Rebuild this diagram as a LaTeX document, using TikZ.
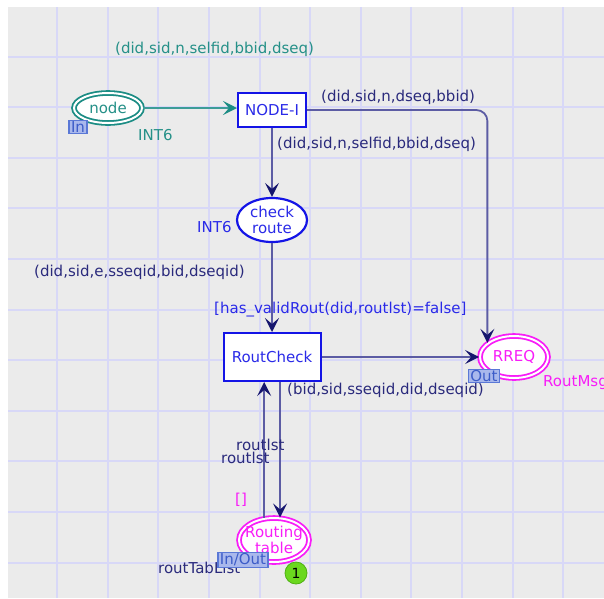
\documentclass[tikz,border=0pt]{standalone}
\usepackage{fontspec}
\setmainfont{DejaVu Sans}
\usetikzlibrary{shapes.geometric,arrows.meta,calc}

\definecolor{bggray}{HTML}{EBEBEB}
\definecolor{gridc}{HTML}{D8D8F7}
\definecolor{tealc}{HTML}{1B8C84}
\definecolor{tealline}{HTML}{3C9C98}
\definecolor{tealtxt}{HTML}{259088}
\definecolor{bluec}{HTML}{1414E6}
\definecolor{bluetxt}{HTML}{2A2AE8}
\definecolor{arcc}{HTML}{5C5CA4}
\definecolor{headc}{HTML}{16166E}
\definecolor{navytxt}{HTML}{2A2A7C}
\definecolor{magc}{HTML}{F81CF8}
\definecolor{tagfill}{HTML}{A9B8EC}
\definecolor{tagdraw}{HTML}{5A78D6}
\definecolor{tagtxt}{HTML}{3C5CC8}
\definecolor{tokfill}{HTML}{6BD81E}
\definecolor{tokdraw}{HTML}{4FB012}

\begin{document}
\begin{tikzpicture}[x=1pt,y=-1pt,
  every node/.style={font=\fontsize{15}{16}\selectfont},
  trans/.style={rectangle, draw=bluec, line width=2pt, fill=white,
    text=bluetxt, inner sep=0pt},
  dplace/.style={ellipse, draw=#1, double=white, double distance=2pt,
    line width=1.8pt, fill=white, inner sep=0pt},
  splace/.style={ellipse, draw=#1, line width=2.2pt, fill=white, inner sep=0pt},
  arc/.style={draw=arcc, line width=1.8pt,
    -{Stealth[length=14pt,width=14pt,inset=6pt,color=headc]}},
  tarc/.style={draw=tealline, line width=1.8pt,
    -{Stealth[length=14pt,width=14pt,inset=6pt,color=tealc]}},
  tag/.style={rectangle, fill=tagfill, draw=tagdraw, line width=1.2pt,
    text=tagtxt, inner xsep=2pt, inner ysep=1pt,
    font=\fontsize{15}{15}\selectfont},
  lbl/.style={inner sep=0pt, anchor=west},
]
% canvas and sheet
\fill[white] (0,0) rectangle (604,598);
\useasboundingbox (0,0) rectangle (604,598);
\fill[bggray] (8,7) rectangle (604,598);
\foreach \i in {0,...,10} {
  \draw[gridc, line width=2pt] ({57.1+50.6*\i},7) -- ({57.1+50.6*\i},598);
  \draw[gridc, line width=2pt] (8,{56.5+50.6*\i}) -- (604,{56.5+50.6*\i});
}

% places and transitions
\node[dplace=tealc, minimum width=68pt, minimum height=30pt, text=tealtxt]
  (node) at (108,108) {node};
\node[trans, minimum width=68pt, minimum height=34pt] (nodeI) at (272,110) {NODE-I};
\node[splace=bluec, minimum width=70pt, minimum height=44pt,
  label={[text=bluetxt, align=center, inner sep=0pt,
    font=\fontsize{15}{16}\selectfont]center:check\\route}]
  (check) at (272,220) {};
\node[trans, minimum width=97pt, minimum height=48pt] (rc) at (272,357) {RoutCheck};
\node[dplace=magc, minimum width=68pt, minimum height=42pt, text=magc]
  (rreq) at (514,357) {RREQ};
\node[dplace=magc, minimum width=70pt, minimum height=44pt] (rt) at (274,540) {};

% arcs
\draw[tarc] (node.east) -- (node.east -| nodeI.west);
\draw[arc, rounded corners=11pt] (nodeI.east) -| (rreq.152);
\draw[arc] (nodeI) -- (check);
\draw[arc] (check) -- (rc);
\draw[arc] (rc) -- (rreq);
\draw[arc] (rt.114) -- (rt.114 |- rc.south);
\draw[arc] (rc.south -| rt.75) -- (rt.75);

% text inside the routing table place (drawn over its border)
\node[text=magc, align=center, inner sep=0pt] (rtt) at (274,540) {Routing\\table};

% inscriptions
\node[lbl, text=tealtxt] (l1) at (115,49) {(did,sid,n,selfid,bbid,dseq)};
\node[lbl, text=tealtxt] (l2) at (138,135) {INT6};
\node[lbl, text=navytxt] (l3) at (321,97) {(did,sid,n,dseq,bbid)};
\node[lbl, text=navytxt] (l4) at (277,144) {(did,sid,n,selfid,bbid,dseq)};
\node[lbl, text=bluetxt] (l5) at (197,227) {INT6};
\node[lbl, text=navytxt] (l6) at (34,272) {(did,sid,e,sseqid,bid,dseqid)};
\node[lbl, text=bluetxt] (l7) at (214,310) {[has\_validRout(did,routlst)=false]};
\node[lbl, text=navytxt] (l8) at (287,390) {(bid,sid,sseqid,did,dseqid)};
\node[lbl, text=magc] (l9) at (543,383) {RoutMsg};
\node[lbl, text=navytxt] (l10) at (236,445) {routlst};
\node[lbl, text=navytxt] (l11) at (221,458) {routlst};
\node[lbl, text=magc] (l12) at (235,500) {[]};
\node[lbl, text=navytxt] (l13) at (158,568) {routTabList};

% port tags
\node[tag] (tagin) at (78,127) {In};
\node[tag] (tagout) at (484,376) {Out};
\node[tag] (tagio) at (243,560) {In/Out};

% token count
\node[circle, fill=tokfill, draw=tokdraw, line width=0.8pt, minimum size=22pt,
  inner sep=0pt, font=\fontsize{14}{15}\selectfont] (tok) at (296,573) {1};
\end{tikzpicture}
\end{document}
